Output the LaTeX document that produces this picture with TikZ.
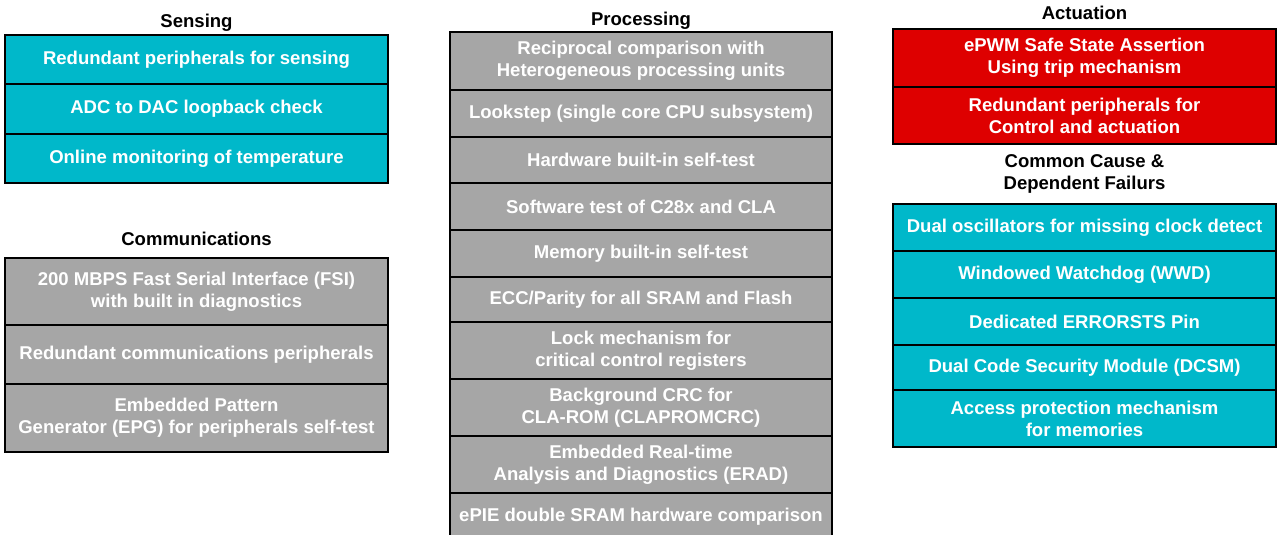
\documentclass[tikz,border=0pt]{standalone}
\usepackage{fontspec}
\setmainfont{Liberation Sans}
\definecolor{tealc}{HTML}{00B8CA}
\definecolor{grayc}{HTML}{A6A6A6}
\definecolor{redc}{HTML}{DE0000}
\tikzset{
  cell/.style={draw=black, line width=1.5pt, fill=#1, text=white, align=center,
    inner sep=0pt, font=\bfseries\fontsize{13.9}{16.5}\selectfont},
  title/.style={text=black, align=center, inner sep=0pt,
    font=\bfseries\fontsize{13.9}{16.5}\selectfont},
  wA/.style={minimum width=383*0.75pt},
  wB/.style={minimum width=382*0.75pt},
}
\begin{document}
\begin{tikzpicture}[x=0.75pt,y=-0.75pt]
\useasboundingbox (0,0) rectangle (1277,535);
% Sensing
\node[title] (tS) at (196.5,22.5) {Sensing};
\node[cell=tealc, wA, minimum height=49*0.75pt] (s1) at (196.5,59.5) {Redundant peripherals for sensing};
\node[cell=tealc, wA, minimum height=50*0.75pt] (s2) at (196.5,109) {ADC to DAC loopback check};
\node[cell=tealc, wA, minimum height=49*0.75pt] (s3) at (196.5,158.5) {Online monitoring of temperature};
% Communications
\node[title] (tC) at (196.5,239) {Communications};
\node[cell=grayc, wA, minimum height=67*0.75pt] (c1) at (196.5,291.5) {200 MBPS Fast Serial Interface (FSI)\\with built in diagnostics};
\node[cell=grayc, wA, minimum height=59*0.75pt] (c2) at (196.5,354.5) {Redundant communications peripherals};
\node[cell=grayc, wA, minimum height=68*0.75pt] (c3) at (196.5,418) {Embedded Pattern\\Generator (EPG) for peripherals self-test};
% Processing
\node[title] (tP) at (641,20.5) {Processing};
\node[cell=grayc, wB, minimum height=58*0.75pt] (p1) at (641,61) {Reciprocal comparison with\\Heterogeneous processing units};
\node[cell=grayc, wB, minimum height=47*0.75pt] (p2) at (641,113.5) {Lookstep (single core CPU subsystem)};
\node[cell=grayc, wB, minimum height=46*0.75pt] (p3) at (641,160) {Hardware built-in self-test};
\node[cell=grayc, wB, minimum height=47*0.75pt] (p4) at (641,206.5) {Software test of C28x and CLA};
\node[cell=grayc, wB, minimum height=47*0.75pt] (p5) at (641,253.5) {Memory built-in self-test};
\node[cell=grayc, wB, minimum height=45*0.75pt] (p6) at (641,299.5) {ECC/Parity for all SRAM and Flash};
\node[cell=grayc, wB, minimum height=57*0.75pt] (p7) at (641,350.5) {Lock mechanism for\\critical control registers};
\node[cell=grayc, wB, minimum height=57*0.75pt] (p8) at (641,407.5) {Background CRC for\\CLA-ROM (CLAPROMCRC)};
\node[cell=grayc, wB, minimum height=57*0.75pt] (p9) at (641,464.5) {Embedded Real-time\\Analysis and Diagnostics (ERAD)};
\node[cell=grayc, wB, minimum height=47*0.75pt] (p10) at (641,516.5) {ePIE double SRAM hardware comparison};
% Actuation
\node[title] (tA) at (1084.5,13) {Actuation};
\node[cell=redc, wA, minimum height=58*0.75pt] (a1) at (1084.5,58) {ePWM Safe State Assertion\\Using trip mechanism};
\node[cell=redc, wA, minimum height=57*0.75pt] (a2) at (1084.5,115.5) {Redundant peripherals for\\Control and actuation};
% Common cause
\node[title] (tF) at (1084.5,174) {Common Cause \&\\Dependent Failurs};
\node[cell=tealc, wA, minimum height=47*0.75pt] (f1) at (1084.5,227.5) {Dual oscillators for missing clock detect};
\node[cell=tealc, wA, minimum height=47*0.75pt] (f2) at (1084.5,274.5) {Windowed Watchdog (WWD)};
\node[cell=tealc, wA, minimum height=47*0.75pt] (f3) at (1084.5,321.5) {Dedicated ERRORSTS Pin};
\node[cell=tealc, wA, minimum height=45*0.75pt] (f4) at (1084.5,367.5) {Dual Code Security Module (DCSM)};
\node[cell=tealc, wA, minimum height=57*0.75pt] (f5) at (1084.5,418.5) {Access protection mechanism\\for memories};
\end{tikzpicture}
\end{document}
